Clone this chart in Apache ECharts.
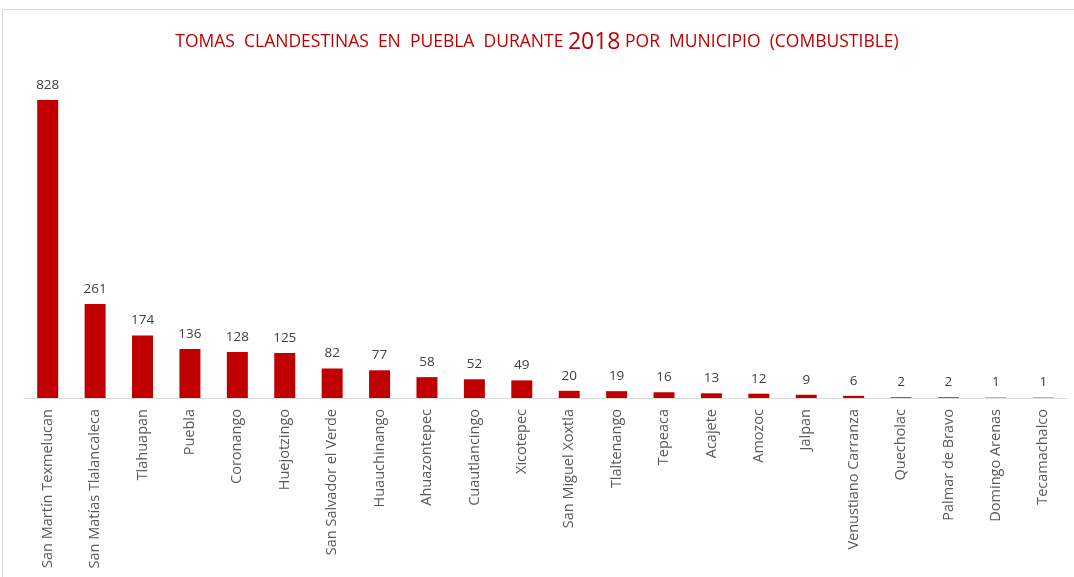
<!DOCTYPE html>
<html>
<head>
<meta charset="utf-8">
<script src="https://cdn.jsdelivr.net/npm/echarts@6/dist/echarts.min.js"></script>
<style>
  html, body { margin: 0; padding: 0; background: #fff; }
  #main { width: 1074px; height: 577px; }
  .frame { position: absolute; left: 2px; top: 9px; right: -2px; bottom: -2px; border: 1px solid #d9d9d9; pointer-events: none; }
</style>
</head>
<body>
<div id="main"></div>
<div class="frame"></div>
<script>
const municipios = [
  'San Martín Texmelucan', 'San Matías Tlalancaleca', 'Tlahuapan', 'Puebla',
  'Coronango', 'Huejotzingo', 'San Salvador el Verde', 'Huauchinango',
  'Ahuazontepec', 'Cuautlancingo', 'Xicotepec', 'San Miguel Xoxtla',
  'Tlaltenango', 'Tepeaca', 'Acajete', 'Amozoc', 'Jalpan',
  'Venustiano Carranza', 'Quecholac', 'Palmar de Bravo', 'Domingo Arenas',
  'Tecamachalco'
];
const tomas = [828, 261, 174, 136, 128, 125, 82, 77, 58, 52, 49, 20, 19, 16, 13, 12, 9, 6, 2, 2, 1, 1];

window.addEventListener('load', function () {
  var chart = echarts.init(document.getElementById('main'));

  var option = {
    backgroundColor: '#fff',
    animation: false,
    title: {
      text: '{s|TOMAS  CLANDESTINAS  EN  PUEBLA  DURANTE }{b|2018}{s| POR  MUNICIPIO  (COMBUSTIBLE)}',
      left: 'center',
      top: 26,
      textStyle: {
        fontWeight: 'normal',
        rich: {
          s: { fontFamily: 'Open Sans', fontSize: 17.5, fontWeight: 'normal', color: '#c00000' },
          b: { fontFamily: 'Open Sans', fontSize: 23, fontWeight: 'normal', color: '#c00000' }
        }
      }
    },
    grid: { left: 24, right: 7, top: 100, bottom: 179, containLabel: false },
    xAxis: {
      type: 'category',
      data: municipios,
      axisLine: { lineStyle: { color: '#d9d9d9', width: 1 } },
      axisTick: { show: false },
      axisLabel: {
        rotate: 90,
        interval: 0,
        margin: 11,
        color: '#595959',
        fontFamily: 'Open Sans',
        fontSize: 14.5
      }
    },
    yAxis: {
      type: 'value',
      min: 0,
      max: 828,
      show: false,
      splitLine: { show: false }
    },
    series: [{
      type: 'bar',
      data: tomas,
      barWidth: 21,
      itemStyle: { color: '#c00000' },
      label: {
        show: true,
        position: 'top',
        distance: 8,
        color: '#404040',
        fontFamily: 'Open Sans',
        fontSize: 13.5
      }
    }]
  };
  chart.setOption(option);
});
</script>
</body>
</html>
